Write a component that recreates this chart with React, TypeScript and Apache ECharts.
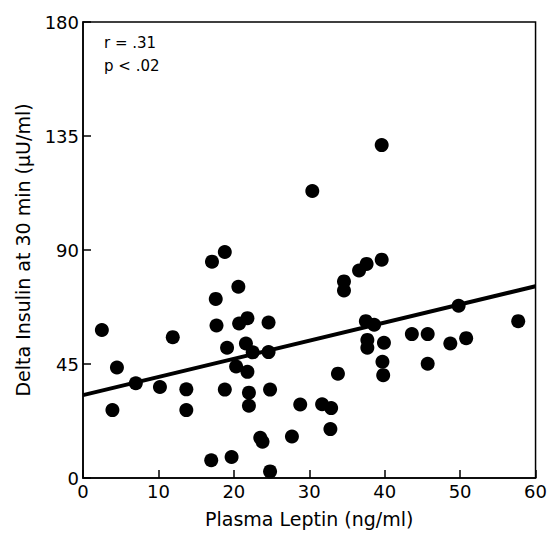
import React, { useEffect, useRef } from "react";
import * as echarts from "echarts";

const leptin = [
  2.5, 3.9, 4.5, 7.0, 10.2, 11.9, 13.7, 13.7, 17.1, 18.8, 20.6, 17.6, 17.7, 20.7, 21.8, 24.6,
  19.1, 21.6, 22.5, 24.6, 20.3, 21.8, 18.8, 22.0, 24.8, 22.0, 28.8, 23.5, 23.8, 27.7, 17.0, 19.7,
  24.8, 39.6, 30.4, 31.7, 32.9, 32.8, 33.8, 34.6, 34.6, 36.6, 37.6, 39.6, 37.5, 38.6, 37.7, 37.7,
  39.9, 39.7, 39.8, 43.6, 45.7, 45.7, 48.7, 50.8, 49.8, 57.7,
];
const deltaInsulin = [
  58.4, 26.8, 43.6, 37.4, 35.9, 55.6, 35.0, 26.8, 85.4, 89.2, 75.5, 70.7, 60.2, 61.0, 63.1, 61.4,
  51.4, 53.1, 49.6, 49.7, 44.0, 41.9, 34.9, 33.7, 34.9, 28.5, 29.0, 15.9, 14.3, 16.4, 7.0, 8.3,
  2.6, 131.4, 113.3, 29.1, 27.6, 19.3, 41.2, 77.6, 74.0, 81.9, 84.5, 86.2, 61.9, 60.5, 54.5, 51.4,
  53.4, 45.9, 40.6, 56.8, 56.8, 45.1, 53.1, 55.2, 68.0, 61.9,
];
const fitX = [0, 60];
const fitY = [32.7, 75.7];
const xTicks = [0, 10, 20, 30, 40, 50, 60];
const yTicks = [0, 45, 90, 135, 180];
const statLines = ["r = .31", "p < .02"];

export default function App() {
  const ref = useRef<HTMLDivElement>(null);
  useEffect(() => {
    if (!ref.current) return;
    const chart = echarts.init(ref.current, null, { renderer: "svg" });
    const font = "DejaVu Sans, Liberation Sans, Arial, sans-serif";
    chart.setOption({
      animation: false,
      backgroundColor: "#ffffff",
      grid: {
        left: 83,
        right: 11,
        top: 22,
        bottom: 54,
        show: true,
        borderColor: "#000",
        borderWidth: 1.5,
      },
      xAxis: {
        type: "value",
        min: xTicks[0],
        max: xTicks[xTicks.length - 1],
        interval: 10,
        name: "Plasma Leptin (ng/ml)",
        nameLocation: "middle",
        nameGap: 31,
        nameTextStyle: { fontFamily: font, fontSize: 19, color: "#000" },
        axisLine: { show: true, onZero: false, lineStyle: { color: "#000", width: 1.5 } },
        axisTick: { show: true, inside: true, length: 8, lineStyle: { color: "#000", width: 1.5 } },
        axisLabel: { fontFamily: font, fontSize: 18, color: "#000", margin: 4 },
        splitLine: { show: false },
      },
      yAxis: {
        type: "value",
        min: yTicks[0],
        max: yTicks[yTicks.length - 1],
        interval: 45,
        name: "Delta Insulin at 30 min (\u00b5U/ml)",
        nameLocation: "middle",
        nameGap: 51,
        nameTextStyle: { fontFamily: font, fontSize: 19, color: "#000" },
        axisLine: { show: true, onZero: false, lineStyle: { color: "#000", width: 1.5 } },
        axisTick: { show: true, inside: true, length: 8, lineStyle: { color: "#000", width: 1.5 } },
        axisLabel: { fontFamily: font, fontSize: 18, color: "#000", margin: 4 },
        splitLine: { show: false },
      },
      graphic: statLines.map((t, i) => ({
        type: "text",
        left: 104,
        top: 35 + i * 23,
        style: { text: t, fontFamily: font, fontSize: 15, fill: "#000" },
      })),
      series: [
        {
          type: "line",
          data: fitX.map((x, i) => [x, fitY[i]]),
          showSymbol: false,
          symbol: "none",
          lineStyle: { color: "#000", width: 4 },
          z: 2,
        },
        {
          type: "scatter",
          data: leptin.map((x, i) => [x, deltaInsulin[i]]),
          symbol: "circle",
          symbolSize: 14,
          itemStyle: { color: "#000", opacity: 1 },
          z: 3,
        },
      ],
    });
    return () => chart.dispose();
  }, []);
  return (
    <div
      ref={ref}
      style={{ width: 550, height: 533, position: "fixed", left: 0, top: 0 }}
    />
  );
}
